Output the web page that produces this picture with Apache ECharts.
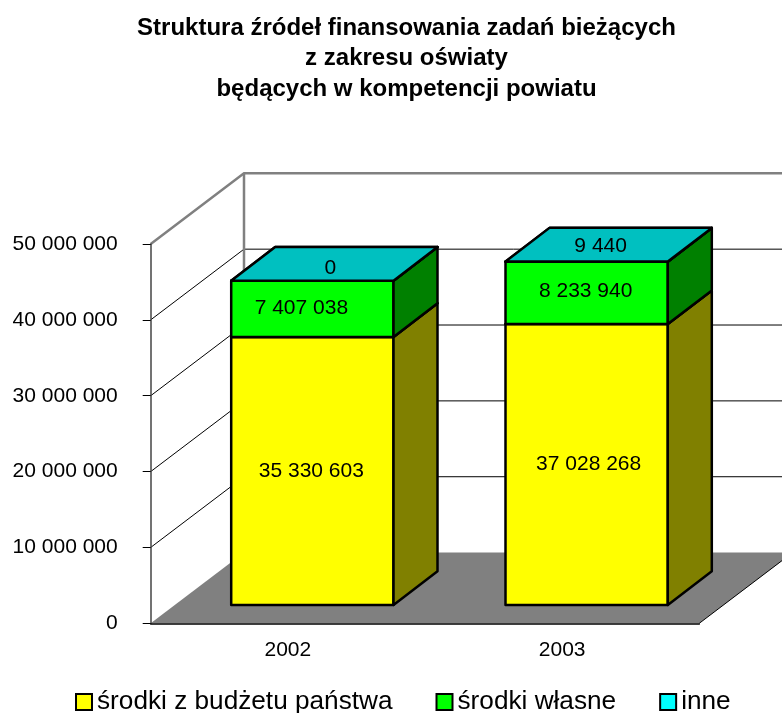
<!DOCTYPE html>
<html>
<head>
    <meta charset="utf-8"/>
    <title>Struktura źródeł finansowania</title>
    <script src="https://cdn.jsdelivr.net/npm/echarts@6/dist/echarts.min.js"></script>
    <style>
        html, body { margin: 0; padding: 0; background: #fff; }
        #chart { width: 782px; height: 713px; }
    </style>
</head>
<body>
<div id="chart"></div>
<script>
    var years = ['2002', '2003'];
    var budzet = [35330603, 37028268];
    var wlasne = [7407038, 8233940];
    var inne = [0, 9440];
    var yTicks = [0, 10000000, 20000000, 30000000, 40000000, 50000000];

    var FONT = '"Liberation Sans", Arial, sans-serif';
    // perspective of the 3D box, in pixels
    var WALL_DX = 93.3, WALL_DY = -70.7;
    var BAR_DX = 44, BAR_DY = -33.7;
    var BAR_FRONT_DX = 24.5, BAR_FRONT_DY = -18.3;
    var BAR_WIDTH = 162.3;

    function spaced(v) {
        return String(v).replace(/\B(?=(\d{3})+$)/g, ' ');
    }

    // walls and floor
    function renderWall(params, api) {
        var v = api.value(0);
        var cs = params.coordSys;
        var y = api.coord([0, v])[1];
        var x0 = cs.x, x1 = cs.x + cs.width;
        var top = v === yTicks[yTicks.length - 1];
        var lineStyle = top
            ? {stroke: '#808080', lineWidth: 2.5, fill: null}
            : {stroke: '#000', lineWidth: 1, fill: null};
        if (v === 0) {
            return {type: 'group', children: [
                {type: 'polygon', shape: {points: [[x0, y], [x0 + WALL_DX, y + WALL_DY], [x1 + WALL_DX, y + WALL_DY], [x1, y]]},
                    style: {fill: '#808080', stroke: null}},
                {type: 'line', shape: {x1: x1, y1: y, x2: x1 + WALL_DX, y2: y + WALL_DY},
                    style: {stroke: '#000', lineWidth: 1}}
            ]};
        }
        return {type: 'group', children: [
            {type: 'polyline', shape: {points: [[x0, y], [x0 + WALL_DX, y + WALL_DY], [x1 + WALL_DX, y + WALL_DY]]},
                style: lineStyle}
        ].concat(top ? [
            {type: 'line', shape: {x1: x0 + WALL_DX, y1: y + WALL_DY, x2: x0 + WALL_DX, y2: api.coord([0, 0])[1] + WALL_DY},
                style: {stroke: '#808080', lineWidth: 2.5}}
        ] : [])};
    }

    // one bar segment: front, side and top faces
    function segmentRenderer(sideColor, topColor, labelNudge) {
        return function (params, api) {
            var c0 = api.coord([api.value(0), api.value(1)]);
            var c1 = api.coord([api.value(0), api.value(2)]);
            var l = c0[0] - BAR_WIDTH / 2 + BAR_FRONT_DX;
            var r = l + BAR_WIDTH;
            var b = c0[1] + BAR_FRONT_DY;
            var t = c1[1] + BAR_FRONT_DY;
            var border = {stroke: '#000', lineWidth: 2.5, lineJoin: 'round'};
            var nudge = labelNudge[params.dataIndex];
            return {type: 'group', children: [
                {type: 'polygon', shape: {points: [[l, b], [r, b], [r, t], [l, t]]},
                    style: Object.assign({fill: api.visual('color')}, border)},
                {type: 'polygon', shape: {points: [[r, b], [r + BAR_DX, b + BAR_DY], [r + BAR_DX, t + BAR_DY], [r, t]]},
                    style: Object.assign({fill: sideColor}, border)},
                {type: 'polygon', shape: {points: [[l, t], [r, t], [r + BAR_DX, t + BAR_DY], [l + BAR_DX, t + BAR_DY]]},
                    style: Object.assign({fill: topColor}, border)},
                {type: 'text', z2: 10, style: {
                    x: (l + r) / 2 + nudge[0], y: (t + b) / 2 + nudge[1],
                    text: spaced(api.value(2) - api.value(1)),
                    font: '21px ' + FONT, fill: '#000', align: 'center', verticalAlign: 'middle'
                }}
            ]};
        };
    }

    function segmentData(values, below) {
        return values.map(function (v, i) {
            var base = below.reduce(function (s, arr) { return s + arr[i]; }, 0);
            return [i, base, base + v];
        });
    }

    var chart = echarts.init(document.getElementById('chart'), null, {renderer: 'canvas'});

    var option = {
        animation: false,
        title: {
            text: 'Struktura źródeł finansowania zadań bieżących\nz zakresu oświaty\nbędących w kompetencji powiatu',
            left: 401.5,
            top: 8,
            textAlign: 'center',
            textStyle: {fontFamily: FONT, fontWeight: 'bold', fontSize: 24, lineHeight: 30.5, color: '#000'}
        },
        legend: {
            left: 70,
            top: 684,
            itemWidth: 16,
            itemHeight: 16,
            itemGap: 43,
            icon: 'rect',
            data: ['środki z budżetu państwa', 'środki własne', 'inne'],
            itemStyle: {borderColor: '#000', borderWidth: 2},
            textStyle: {fontFamily: FONT, fontSize: 26.2, color: '#000'}
        },
        grid: {left: 150.7, top: 244, width: 548.6, height: 379.3},
        xAxis: {
            type: 'category',
            z: 5,
            data: years,
            axisLine: {lineStyle: {color: '#000', width: 1.5}},
            axisTick: {length: 7, alignWithLabel: false, lineStyle: {color: '#444'}},
            axisLabel: {fontFamily: FONT, fontSize: 21, color: '#000', margin: 16},
            splitLine: {show: false}
        },
        yAxis: {
            type: 'value',
            z: 5,
            min: 0,
            max: 50000000,
            interval: 10000000,
            axisLine: {show: true, lineStyle: {color: '#444', width: 1.5}},
            axisTick: {show: true, length: 8, lineStyle: {color: '#000'}},
            axisLabel: {fontFamily: FONT, fontSize: 21, color: '#000', margin: 33, formatter: spaced},
            splitLine: {show: false}
        },
        series: [
            {
                type: 'custom',
                name: 'wall',
                silent: true,
                clip: false,
                z: 1,
                encode: {x: -1, y: 0},
                renderItem: renderWall,
                data: yTicks.map(function (v) { return [v]; })
            },
            {
                type: 'custom',
                name: 'środki z budżetu państwa',
                clip: false,
                z: 2,
                itemStyle: {color: '#FFFF00'},
                encode: {x: 0, y: 2},
                renderItem: segmentRenderer('#808000', '#C0C000', [[-1, 0], [2, 0]]),
                data: segmentData(budzet, [])
            },
            {
                type: 'custom',
                name: 'środki własne',
                clip: false,
                z: 3,
                itemStyle: {color: '#00FF00'},
                encode: {x: 0, y: 2},
                renderItem: segmentRenderer('#008000', '#00C000', [[-11, -1], [-1, -2]]),
                data: segmentData(wlasne, [budzet])
            },
            {
                type: 'custom',
                name: 'inne',
                clip: false,
                z: 4,
                itemStyle: {color: '#00FFFF'},
                encode: {x: 0, y: 2},
                renderItem: segmentRenderer('#008080', '#00C0C0', [[18, -13], [14, -15]]),
                data: segmentData(inne, [budzet, wlasne])
            }
        ]
    };

    chart.setOption(option);
    window.addEventListener('resize', chart.resize);
</script>
</body>
</html>
